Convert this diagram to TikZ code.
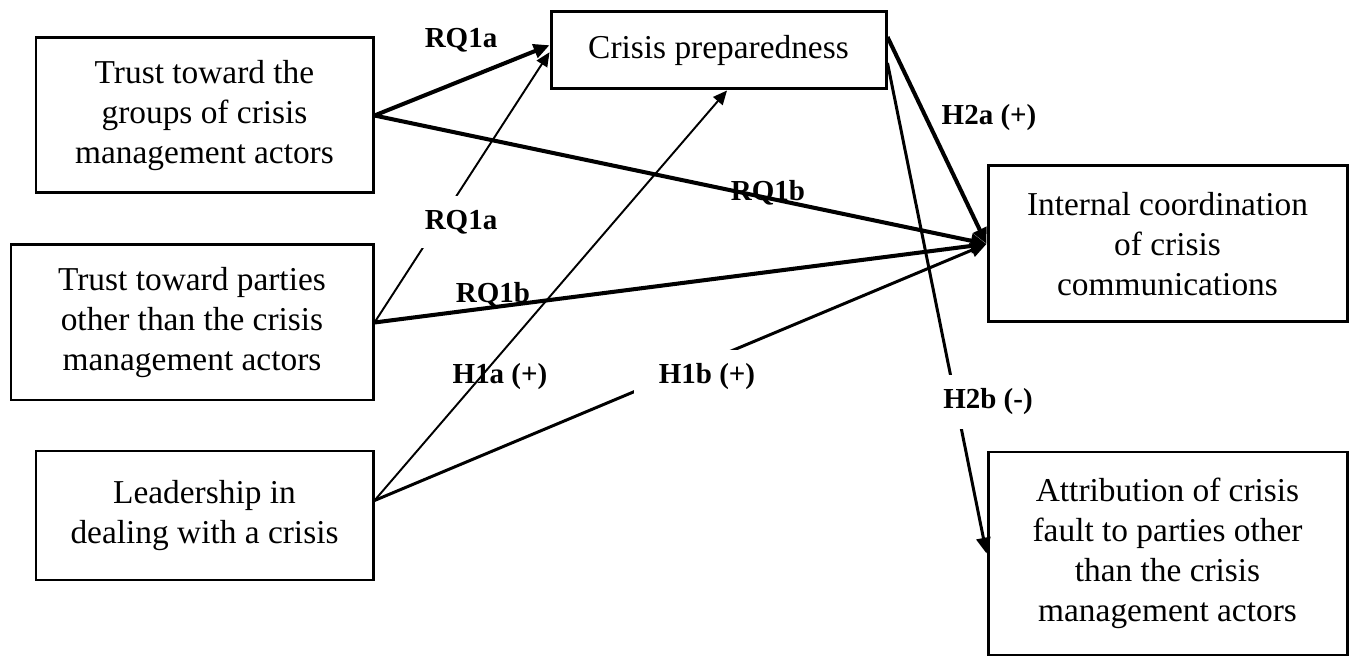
\documentclass[tikz,border=0pt]{standalone}
\usepackage{fontspec}
\setmainfont{Liberation Serif}
\usetikzlibrary{arrows.meta}

\begin{document}
\begin{tikzpicture}[
  box/.style={draw, line width=1.7pt, align=center, inner sep=2pt, font=\fontsize{19}{22.8}\selectfont},
  lbl/.style={font=\fontsize{16.5}{19}\selectfont\bfseries, inner xsep=3pt, inner ysep=8pt},
  gaplbl/.style={lbl, fill=white},
  strong/.style={line width=2.3pt, -{Triangle[length=9pt,width=8pt]}},
  medium/.style={line width=1.7pt, -{Triangle[length=9pt,width=8pt]}},
  weak/.style={line width=1.1pt, -{Triangle[length=8pt,width=7pt]}}
]
\useasboundingbox (0,0) rectangle (27,13.14);
%\draw[help lines, color=gray!30, dashed] (0,0) grid (27,13);
\node[box, minimum width=6.74cm, minimum height=3.1cm] (groups) at (4.09,10.83) {Trust toward the\\groups of crisis\\management actors};
\node[box, minimum width=7.24cm, minimum height=3.1cm] (parties) at (3.84,6.69) {Trust toward parties\\other than the crisis\\management actors};
\node[box, minimum width=6.74cm, minimum height=2.58cm] (leader) at (4.09,2.83) {Leadership in\\dealing with a crisis};
\node[box, minimum width=6.7cm, minimum height=1.54cm] (prep) at (14.37,12.13) {Crisis preparedness};
\node[box, minimum width=7.18cm, minimum height=3.12cm] (coord) at (23.35,8.26) {Internal coordination\\of crisis\\communications};
\node[box, minimum width=7.18cm, minimum height=4.06cm] (fault) at (23.35,2.07) {Attribution of crisis\\fault to parties other\\than the crisis\\management actors};

\draw[strong] (groups.east) -- ([yshift=3pt]prep.west);
\draw[strong] (groups.east) -- (coord.west);
\draw[weak] (parties.east) -- ([yshift=-1pt]prep.west);
\draw[strong] (parties.east) -- (coord.west);
\draw[weak] ([yshift=0.3cm]leader.east) -- ([xshift=0.17cm]prep.south);
\draw[medium] ([yshift=0.3cm]leader.east) -- (coord.west);
\draw[strong] ([yshift=0.27cm]prep.east) -- (coord.west);
\draw[medium] ([yshift=-0.25cm]prep.east) -- (fault.west);

\node[lbl] (rqa1) at (9.22,12.34) {RQ1a};
\node[gaplbl] (rqa2) at (9.22,8.70) {RQ1a};
\node[lbl] (rqb1) at (15.36,9.28) {RQ1b};
\node[lbl] (rqb2) at (9.86,7.24) {RQ1b};
\node[lbl] (hia) at (10.00,5.60) {H1a (+)};
\node[gaplbl, inner xsep=14pt] (hib) at (14.14,5.60) {H1b (+)};
\node[lbl] (hiia) at (19.78,10.78) {H2a (+)};
\node[gaplbl] (hiib) at (19.76,5.10) {H2b (-)};
\end{tikzpicture}
\end{document}
